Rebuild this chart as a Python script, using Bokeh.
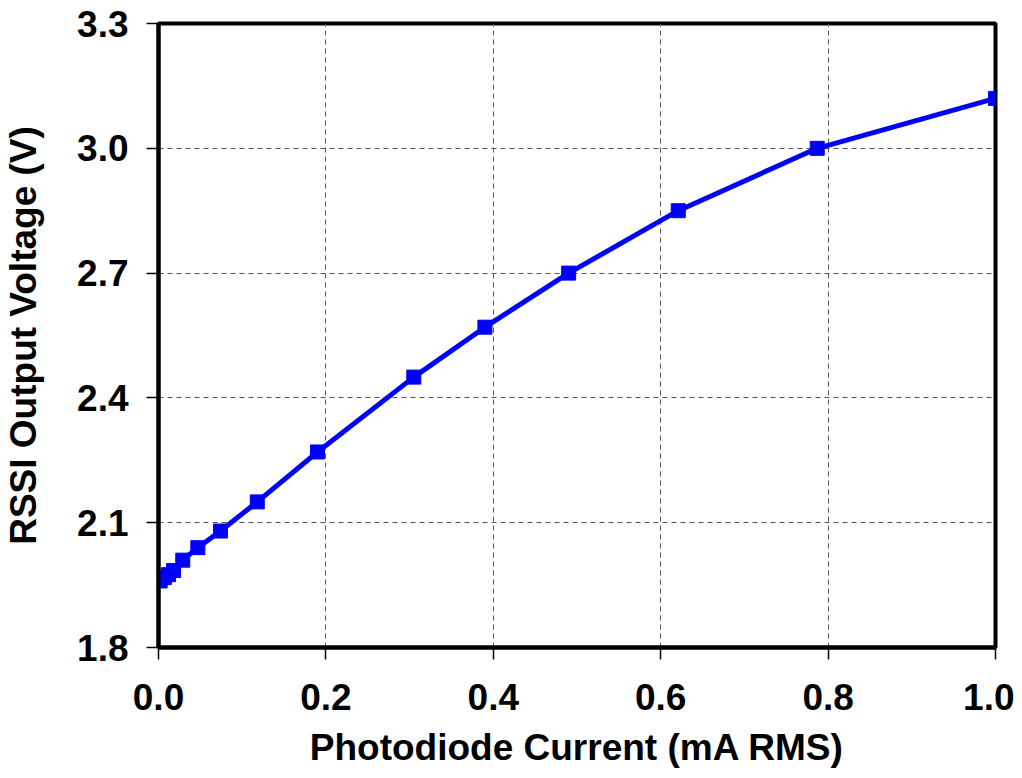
from bokeh.plotting import figure
from bokeh.models import Range1d, FixedTicker, NumeralTickFormatter
from bokeh.embed import file_html
from bokeh.resources import INLINE

current_ma = [0.002, 0.007, 0.012, 0.018, 0.029, 0.047, 0.074, 0.118, 0.19, 0.305, 0.39, 0.49, 0.621, 0.787, 1.0]
rssi_v = [1.96, 1.968, 1.975, 1.985, 2.01, 2.04, 2.08, 2.15, 2.27, 2.45, 2.57, 2.70, 2.85, 3.00, 3.12]
x_ticks = [0.0, 0.2, 0.4, 0.6, 0.8, 1.0]
y_ticks = [1.8, 2.1, 2.4, 2.7, 3.0, 3.3]

FONT = "Liberation Sans"

p = figure(width=1014, height=770, output_backend="svg", toolbar_location=None,
           x_range=Range1d(0, 1.0), y_range=Range1d(1.8, 3.3),
           min_border_left=150, min_border_right=19, min_border_top=23, min_border_bottom=123)

p.line(current_ma, rssi_v, line_color="#0000FF", line_width=5)
p.scatter(current_ma, rssi_v, marker="square", size=14, fill_color="#0000FF", line_color="#0000FF")

p.outline_line_color = "black"
p.outline_line_width = 4
p.outline_line_alpha = 1.0

for ax in (p.xaxis[0], p.yaxis[0]):
    ax.axis_line_width = 4
    ax.axis_line_color = "black"
    ax.major_tick_out = 12
    ax.major_tick_in = 0
    ax.major_tick_line_color = "black"
    ax.major_tick_line_width = 1.5
    ax.minor_tick_out = 0
    ax.minor_tick_in = 0
    ax.major_label_text_font = FONT
    ax.major_label_text_font_style = "bold"
    ax.major_label_text_font_size = "37px"
    ax.major_label_text_color = "black"
    ax.axis_label_text_font = FONT
    ax.axis_label_text_font_style = "bold"
    ax.axis_label_text_font_size = "37px"
    ax.axis_label_text_color = "black"
    ax.formatter = NumeralTickFormatter(format="0.0")

p.xaxis.ticker = FixedTicker(ticks=x_ticks)
p.yaxis.ticker = FixedTicker(ticks=y_ticks)
p.xaxis.axis_label = "Photodiode Current (mA RMS)"
p.yaxis.axis_label = "RSSI Output Voltage (V)"
p.xaxis.major_label_standoff = 24
p.yaxis.major_label_standoff = 18
p.xaxis.axis_label_standoff = 14
p.yaxis.axis_label_standoff = 30

p.xgrid.ticker = FixedTicker(ticks=x_ticks)
p.ygrid.ticker = FixedTicker(ticks=y_ticks)
for g in (p.xgrid[0], p.ygrid[0]):
    g.grid_line_color = "#555555"
    g.grid_line_dash = "5 4"
    g.grid_line_width = 1

p.background_fill_color = "white"
p.border_fill_color = "white"

open("out.html", "w").write(file_html(p, INLINE))
